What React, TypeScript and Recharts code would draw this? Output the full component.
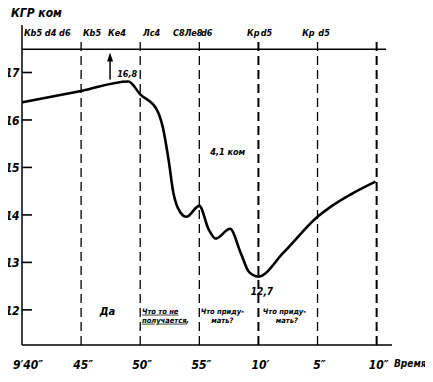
import React from "react";
import { LineChart, Line, XAxis, YAxis, ReferenceLine, ReferenceDot } from "recharts";

// time in seconds after 9'40"
const times = [0, 5, 9, 10, 11.4, 11.9, 12.4, 12.8, 13.4, 13.9, 15, 15.8, 16.4, 17.6, 18.5, 19.2, 20, 22.1, 25, 26.1, 27.8, 29.9];
const kgr = [16.37, 16.61, 16.81, 16.54, 16.22, 15.86, 15.16, 14.47, 14.05, 13.96, 14.19, 13.69, 13.5, 13.71, 13.2, 12.8, 12.7, 13.2, 13.96, 14.17, 14.43, 14.7];
const xTicks = [0, 5, 10, 15, 20, 25, 30];
const xTickLabels = ["9′40″", "45″", "50″", "55″", "10′", "5″", "10″"];
const yTicks = [12, 13, 14, 15, 16, 17];
const dividers = [5, 10, 15, 20, 25, 30];
const moveTimes = [0.17, 5.16, 7.28, 10.24, 12.78, 15.14, 19.04, 20.2, 23.7, 25.07];
const moveTexts = ["Кb5 d4 d6", "Кb5", "Ке4", "Лс4", "С8Ле8", "d6", "Кр", "d5", "Кр", "d5"];

const data = times.map((t, i) => ({ t, v: kgr[i] }));

const Y_MIN = 11.26;
const Y_MAX = 18.0;
const TOP_LINE = 17.49;
const DIV_TOP = 17.73;
const MOVE_Y = 17.76;

const FONT = "'DejaVu Sans Condensed', 'DejaVu Sans', sans-serif";

const txt = (text: string, anchor: "start" | "middle" | "end", size: number, extra: any = {}) =>
  (p: any) => (
    <text
      x={p.cx}
      y={p.cy}
      textAnchor={anchor}
      fontFamily={FONT}
      fontStyle="italic"
      fontWeight="bold"
      fontSize={size}
      fill="#000"
      {...extra}
    >
      {text}
    </text>
  );

const notes = [
  { t: 8.9, v: 16.9, text: "16,8", anchor: "middle", size: 9 },
  { t: 17.4, v: 15.27, text: "4,1 ком", anchor: "middle", size: 9 },
  { t: 20.3, v: 12.32, text: "12,7", anchor: "middle", size: 10 },
  { t: 7.23, v: 11.9, text: "Да", anchor: "middle", size: 11 },
  { t: 10.15, v: 11.92, text: "Что то не", anchor: "start", size: 7.5, underline: true },
  { t: 10.15, v: 11.73, text: "получается", anchor: "start", size: 7.5, underline: true },
  { t: 13.9, v: 11.73, text: ",", anchor: "start", size: 8 },
  { t: 16.95, v: 11.92, text: "Что приду-", anchor: "middle", size: 7.5 },
  { t: 16.95, v: 11.73, text: "мать?", anchor: "middle", size: 7.5 },
  { t: 22.2, v: 11.92, text: "Что приду-", anchor: "middle", size: 7.5 },
  { t: 22.4, v: 11.73, text: "мать?", anchor: "middle", size: 7.5 },
];

const yTickShape = (value: number) => (p: any) => (
  <g>
    <line x1={p.cx} x2={p.cx + 10} y1={p.cy} y2={p.cy} stroke="#000" strokeWidth={1.6} />
    <text
      x={p.cx - 3}
      y={p.cy + 5}
      textAnchor="end"
      fontFamily={FONT}
      fontStyle="italic"
      fontWeight="bold"
      fontSize={12}
      letterSpacing={-0.5}
      fill="#000"
    >
      {String(value)}
    </text>
  </g>
);

const XTick = (p: any) => {
  const idx = xTicks.indexOf(p.payload.value);
  const label = xTickLabels[idx] ?? "";
  const dx = idx === 0 ? 6 : 2;
  return (
    <text
      x={p.x + dx}
      y={p.y + 24}
      textAnchor="middle"
      fontFamily={FONT}
      fontStyle="italic"
      fontWeight="bold"
      fontSize={12}
      fill="#000"
    >
      {label}
    </text>
  );
};

export default function App() {
  return (
    <div style={{ position: "relative", width: 433, height: 382, margin: -8 }}>
      <LineChart
        width={433}
        height={382}
        data={data}
        margin={{ top: 25, right: 41, left: 0, bottom: 0 }}
      >
        <XAxis
          dataKey="t"
          type="number"
          domain={[0, 31.3]}
          ticks={xTicks}
          allowDataOverflow
          tickLine={false}
          tickSize={0}
          tickMargin={0}
          height={37}
          axisLine={{ stroke: "#000", strokeWidth: 1.5 }}
          tick={<XTick />}
          interval={0}
        />
        <YAxis
          type="number"
          domain={[Y_MIN, Y_MAX]}
          ticks={yTicks}
          allowDataOverflow
          tickLine={false}
          tick={false}
          width={22}
          axisLine={{ stroke: "#000", strokeWidth: 1.5 }}
        />
        {yTicks.map((v) => (
          <ReferenceDot
            key={"y" + v}
            x={0}
            y={v}
            r={0}
            ifOverflow="visible"
            shape={yTickShape(v)}
          />
        ))}
        <ReferenceLine
          segment={[{ x: 0, y: TOP_LINE }, { x: 30.8, y: TOP_LINE }]}
          stroke="#000"
          strokeWidth={1.5}
          ifOverflow="visible"
        />
        {dividers.map((d) => (
          <ReferenceLine
            key={d}
            segment={[{ x: d, y: Y_MIN }, { x: d, y: DIV_TOP }]}
            stroke="#000"
            strokeWidth={d === 30 || d === 20 ? 2 : 1.3}
            strokeDasharray="9 5"
            ifOverflow="visible"
          />
        ))}
        <ReferenceLine
          segment={[{ x: 7.45, y: 16.85 }, { x: 7.45, y: 17.3 }]}
          stroke="#000"
          strokeWidth={1.5}
        />
        <ReferenceDot
          x={7.45}
          y={17.36}
          r={0}
          ifOverflow="visible"
          shape={(p: any) => (
            <path d={`M${p.cx},${p.cy - 3} L${p.cx - 3},${p.cy + 6} L${p.cx + 3},${p.cy + 6} Z`} fill="#000" />
          )}
        />
        {moveTimes.map((t, i) => (
          <ReferenceDot
            key={"m" + i}
            x={t}
            y={MOVE_Y}
            r={0}
            ifOverflow="visible"
            shape={txt(moveTexts[i], "start", 9)}
          />
        ))}
        {notes.map((n, i) => (
          <ReferenceDot
            key={"n" + i}
            x={n.t}
            y={n.v}
            r={0}
            ifOverflow="visible"
            shape={txt(n.text, n.anchor as any, n.size, n.underline ? { textDecoration: "underline" } : {})}
          />
        ))}
        <Line
          type="monotone"
          dataKey="v"
          stroke="#000"
          strokeWidth={2.6}
          dot={false}
          isAnimationActive={false}
        />
      </LineChart>
      <div
        style={{
          position: "absolute",
          left: 11,
          top: 6,
          fontFamily: FONT,
          fontStyle: "italic",
          fontWeight: "bold",
          fontSize: 12,
          lineHeight: "14px",
        }}
      >
        КГР ком
      </div>
      <div
        style={{
          position: "absolute",
          left: 394,
          top: 358,
          fontFamily: FONT,
          fontStyle: "italic",
          fontWeight: "bold",
          fontSize: 10,
          lineHeight: "12px",
        }}
      >
        Время
      </div>
    </div>
  );
}
